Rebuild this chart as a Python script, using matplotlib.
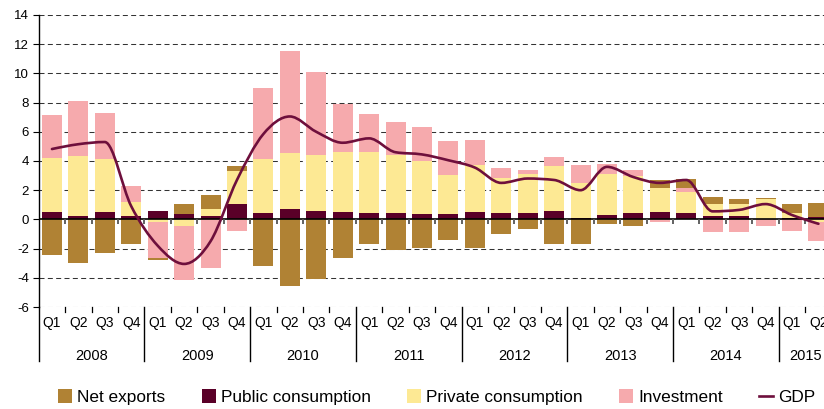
import matplotlib
matplotlib.use('Agg')
import matplotlib.pyplot as plt
import numpy as np
from matplotlib.path import Path
from matplotlib.patches import PathPatch, Patch
from matplotlib.lines import Line2D

plt.rcParams['font.family'] = ['Liberation Sans', 'DejaVu Sans']

# ---------------- data ----------------
years = ['2008', '2009', '2010', '2011', '2012', '2013', '2014', '2015']
quarters = ['Q1', 'Q2', 'Q3', 'Q4'] * 7 + ['Q1', 'Q2']
year_of_quarter = [y for y in years[:7] for _ in range(4)] + ['2015', '2015']

net_exports = [-2.44, -2.99, -2.31, -1.69,
               -0.14, 0.68, 0.96, 0.34,
               -3.20, -4.57, -4.09, -2.65,
               -1.69, -2.10, -1.96, -1.42,
               -1.96, -1.00, -0.66, -1.67,
               -1.67, -0.32, -0.46, 0.55,
               0.59, 0.45, 0.32, 0.07,
               0.64, 1.00]
public_consumption = [0.50, 0.23, 0.50, 0.23,
                      0.57, 0.37, 0.23, 1.05,
                      0.43, 0.71, 0.57, 0.50,
                      0.43, 0.43, 0.37, 0.37,
                      0.50, 0.43, 0.43, 0.57,
                      0.09, 0.30, 0.43, 0.50,
                      0.46, 0.23, 0.23, 0.00,
                      0.07, 0.14]
private_consumption = [3.72, 4.13, 3.63, 0.96,
                       -0.16, -0.46, 0.48, 2.26,
                       3.70, 3.83, 3.84, 4.11,
                       4.18, 3.98, 3.63, 2.67,
                       3.22, 2.40, 2.67, 3.08,
                       2.40, 2.80, 2.54, 1.62,
                       1.41, 0.82, 0.82, 1.37,
                       0.34, -0.15]
investment = [2.93, 3.77, 3.15, 1.09,
              -2.49, -3.70, -3.33, -0.80,
              4.87, 6.99, 5.68, 3.29,
              2.60, 2.26, 2.32, 2.33,
              1.71, 0.69, 0.28, 0.62,
              1.23, 0.69, 0.41, -0.16,
              0.30, -0.84, -0.84, -0.43,
              -0.78, -1.30]
gdp = [4.82, 5.15, 5.30, 0.90,
       -1.80, -3.05, -1.50, 2.70,
       5.85, 7.05, 6.00, 5.25,
       5.55, 4.60, 4.45, 4.05,
       3.55, 2.50, 2.80, 2.70,
       2.00, 3.60, 2.90, 2.50,
       2.70, 0.55, 0.65, 1.05,
       0.30, -0.30]

# ---------------- style ----------------
c_net = '#B08234'
c_pub = '#5A0028'
c_priv = '#FDE994'
c_inv = '#F6AAAD'
c_gdp = '#6E0F3C'

W, H = 824, 409
fig = plt.figure(figsize=(W / 100, H / 100), dpi=100)
ax = fig.add_axes([39 / W, 1 - 307 / H, (W - 39) / W, 292 / H])

n = len(quarters)
x = np.arange(n)
width = 0.757

pos_bottom = np.zeros(n)
neg_bottom = np.zeros(n)
for vals, color in [(public_consumption, c_pub),
                    (private_consumption, c_priv),
                    (investment, c_inv),
                    (net_exports, c_net)]:
    v = np.array(vals, dtype=float)
    bottom = np.where(v >= 0, pos_bottom, neg_bottom)
    ax.bar(x, v, width, bottom=bottom, color=color, linewidth=0, zorder=2)
    pos_bottom += np.where(v >= 0, v, 0)
    neg_bottom += np.where(v < 0, v, 0)

# smoothed GDP line: monotone cubic (Steffen) drawn as Bezier segments
yv = np.array(gdp, dtype=float)
sec = np.diff(yv)
m = np.zeros(n)
for i in range(1, n - 1):
    s0, s1 = sec[i - 1], sec[i]
    p = 0.5 * (s0 + s1)
    m[i] = (np.sign(s0) + np.sign(s1)) * min(abs(s0), abs(s1), 0.5 * abs(p))
m[0] = (3 * sec[0] - m[1]) / 2
m[-1] = (3 * sec[-1] - m[-2]) / 2
verts = [(x[0], yv[0])]
codes = [Path.MOVETO]
for i in range(n - 1):
    verts += [(x[i] + 1 / 3, yv[i] + m[i] / 3),
              (x[i + 1] - 1 / 3, yv[i + 1] - m[i + 1] / 3),
              (x[i + 1], yv[i + 1])]
    codes += [Path.CURVE4] * 3
ax.add_patch(PathPatch(Path(verts, codes), fill=False, edgecolor=c_gdp,
                       lw=1.9, zorder=4, capstyle='round', joinstyle='round'))

# axes
ax.set_xlim(-0.49, -0.49 + (W - 39) / 26.43)
ax.set_ylim(-6, 14)
ax.set_yticks(np.arange(-6, 15, 2))
ax.set_yticklabels([str(v) for v in range(-6, 15, 2)])
ax.set_xticks([])
for s in ['top', 'right', 'bottom']:
    ax.spines[s].set_visible(False)
ax.spines['left'].set_color('black')
ax.spines['left'].set_linewidth(1.0)
ax.tick_params(axis='y', direction='out', length=4.3, width=0.8, pad=3,
               labelsize=9.5, colors='black')
for g in range(-6, 15, 2):
    if g != 0:
        ax.axhline(g, color='#333333', lw=0.75, ls=(0, (4.8, 3.2)), zorder=1)
ax.axhline(0, color='black', lw=1.2, zorder=3)

# small ticks below zero line at quarter boundaries
bnd = np.arange(n) + 0.5
ax.vlines(bnd[:-1], -0.33, 0, color='#555555', lw=1.3, zorder=3)

# category axis at bottom
xt = ax.get_xaxis_transform()
for b in bnd[:-1]:
    if (b + 0.5) % 4 != 0:
        ax.plot([b, b], [0, -5 / 292], transform=xt, color='black', lw=0.9,
                clip_on=False)
for k in range(len(years)):
    b = 4 * k - 0.5
    ax.plot([b, b], [0, -54 / 292], transform=xt, color='black', lw=1.0,
            clip_on=False)

for i, q in enumerate(quarters):
    ax.text(i, -16 / 292, q, transform=xt, ha='center', va='center',
            fontsize=10, clip_on=False)
for yr in years:
    idx = [i for i, y in enumerate(year_of_quarter) if y == yr]
    ax.text(np.mean(idx), -49 / 292, yr, transform=xt, ha='center',
            va='center', fontsize=10.5, clip_on=False)

# legend
leg_handles = [Patch(facecolor=c_net, edgecolor='none'),
               Patch(facecolor=c_pub, edgecolor='none'),
               Patch(facecolor=c_priv, edgecolor='none'),
               Patch(facecolor=c_inv, edgecolor='none'),
               Line2D([0], [0], color=c_gdp, lw=1.9)]
leg_labels = ['Net exports', 'Public consumption', 'Private consumption',
              'Investment', 'GDP']
fig.legend(leg_handles, leg_labels, loc='center left',
           bbox_to_anchor=(58 / W, 1 - 397 / H), bbox_transform=fig.transFigure,
           ncol=5, frameon=False, fontsize=12.4, handlelength=0.82,
           handleheight=0.82, handletextpad=0.3, columnspacing=2.1,
           borderpad=0, borderaxespad=0)

fig.savefig('out.png', dpi=100)
